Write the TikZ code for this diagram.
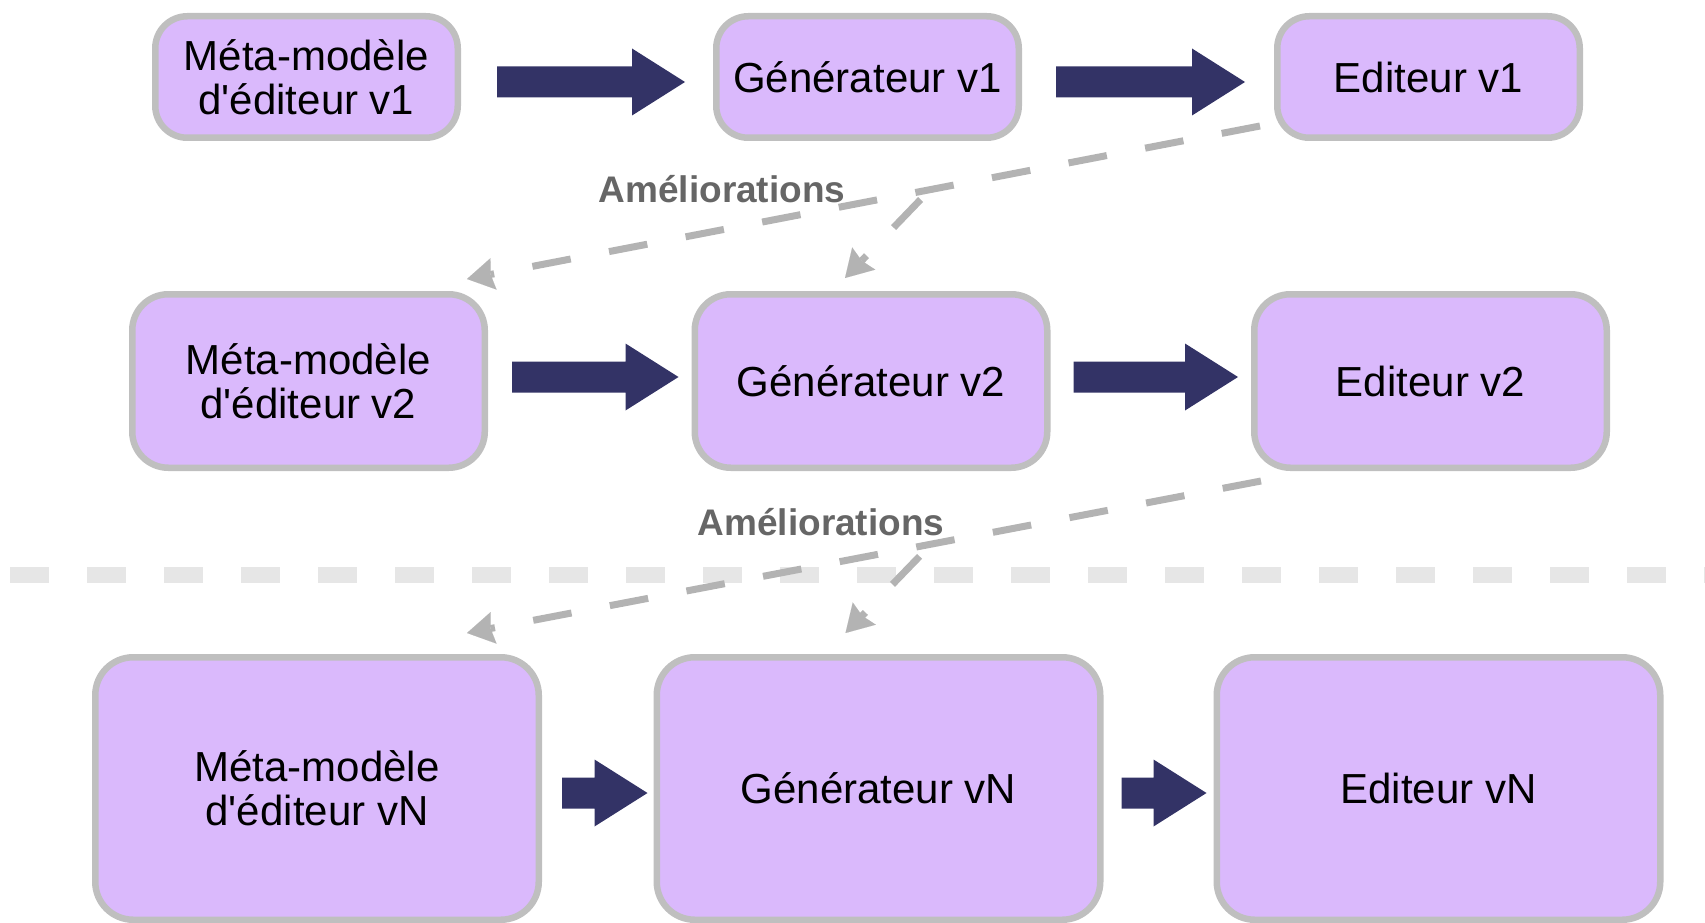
\documentclass[tikz,border=0pt]{standalone}
\usepackage{fontspec}
\setmainfont{Liberation Sans}[Ligatures=TeXOff]
\usetikzlibrary{calc,arrows.meta}
\definecolor{boxfill}{HTML}{DAB9FC}
\definecolor{boxline}{HTML}{BFBFBF}
\definecolor{navy}{HTML}{333366}
\definecolor{conncol}{HTML}{B3B3B3}
\definecolor{labc}{HTML}{666666}
\definecolor{bandc}{HTML}{E6E6E6}
\newcommand{\blockarrow}[2]{%
  \fill[navy] let \p1=(#1), \p2=(#2) in
    (\x1,\y1+15.5pt) -- (\x2-53pt,\y1+15.5pt) -- (\x2-53pt,\y1+33.5pt) --
    (\x2,\y1) -- (\x2-53pt,\y1-33.5pt) -- (\x2-53pt,\y1-15.5pt) --
    (\x1,\y1-15.5pt) -- cycle;}
\begin{document}
\begin{tikzpicture}[x=1pt,y=-1pt,
  box/.style={draw=boxline, fill=boxfill, line width=6.5pt, align=center,
    inner sep=0pt, outer sep=3.25pt, font=\fontsize{42}{44}\selectfont, text=black},
  r1/.style={box, minimum width=302.5pt, minimum height=121.5pt, rounded corners=32pt},
  r2/.style={box, minimum width=352.5pt, minimum height=173.5pt, rounded corners=36pt},
  r3/.style={box, minimum width=443.5pt, minimum height=262.5pt, rounded corners=38pt},
  conn/.style={draw=conncol, line width=7pt, dash pattern=on 39pt off 39pt,
    -{Stealth[length=27pt,width=32pt,inset=3pt,line width=0.01pt]}},
  lab/.style={font=\fontsize{37}{40}\selectfont\bfseries, text=labc, anchor=base, inner sep=0pt}]
\useasboundingbox (0,0) rectangle (1705,923);

% separator band
\draw[bandc, line width=16pt, dash pattern=on 39pt off 38pt] (10,575) -- (1705,575);

% boxes
\node[r1] (m1) at (306.5,77) {Méta-modèle\\d'éditeur v1};
\node[r1] (g1) at (867.5,77) {Générateur v1};
\node[r1] (e1) at (1428.5,77) {Editeur v1};
\node[r2] (m2) at (308.5,381) {Méta-modèle\\d'éditeur v2};
\node[r2] (g2) at (871,381) {Générateur v2};
\node[r2] (e2) at (1430.5,381) {Editeur v2};
\node[r3] (m3) at (317,788.5) {Méta-modèle\\d'éditeur vN};
\node[r3] (g3) at (878.5,788.5) {Générateur vN};
\node[r3] (e3) at (1438.5,788.5) {Editeur vN};

% block arrows
\coordinate (a1s) at ($(m1.east)+(36,5)$);
\coordinate (a1e) at ($(g1.west)+(-28,5)$);
\coordinate (a2s) at ($(g1.east)+(34,5)$);
\coordinate (a2e) at ($(e1.west)+(-29,5)$);
\coordinate (a3s) at ($(m2.east)+(24,-4)$);
\coordinate (a3e) at ($(g2.west)+(-13,-4)$);
\coordinate (a4s) at ($(g2.east)+(23,-4)$);
\coordinate (a4e) at ($(e2.west)+(-13,-4)$);
\coordinate (a5s) at ($(m3.east)+(20,4.5)$);
\coordinate (a5e) at ($(g3.west)+(-6,4.5)$);
\coordinate (a6s) at ($(g3.east)+(18,4.5)$);
\coordinate (a6e) at ($(e3.west)+(-7,4.5)$);
\blockarrow{a1s}{a1e}
\blockarrow{a2s}{a2e}
\blockarrow{a3s}{a3e}
\blockarrow{a4s}{a4e}
\blockarrow{a5s}{a5e}
\blockarrow{a6s}{a6e}

% feedback connectors, group 1
\coordinate (s1) at ($(e1.south west)+(-14,-15)$);
\coordinate (t1) at ($(m2.north east)+(-21,-12)$);
\coordinate (b1) at ($(s1)!0.428!(t1)+(0,8)$);
\coordinate (u1) at ($(g2.north)+(-26,-13)$);
\draw[conn] (s1) -- (t1);
\draw[conn] (b1) -- (u1);
\node[lab] (l1) at (722,202) {Améliorations};

% feedback connectors, group 2
\coordinate (s2) at ($(e2.south west)+(10,10)$);
\coordinate (t2) at ($(m3.north east)+(-75,-21)$);
\coordinate (b2) at ($(s2)!0.43!(t2)+(0,10)$);
\coordinate (u2) at ($(g3.north)+(-33,-21)$);
\draw[conn] (s2) -- (t2);
\draw[conn] (b2) -- (u2);
\node[lab] (l2) at (821,535) {Améliorations};
\end{tikzpicture}
\end{document}
